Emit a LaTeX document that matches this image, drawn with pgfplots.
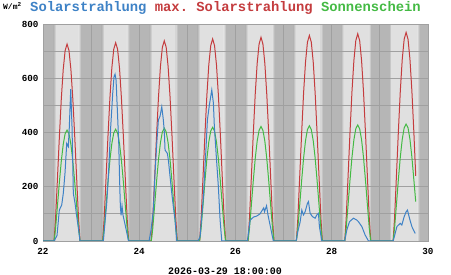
\documentclass[border=0pt]{standalone}
\usepackage{pgfplots}
\pgfplotsset{compat=1.18}
\usepackage{fontspec}
\setmainfont{Liberation Sans}
\setmonofont{Liberation Mono}
\definecolor{cred}{RGB}{196,60,62}
\definecolor{cblue}{RGB}{62,130,198}
\definecolor{cgreen}{RGB}{68,186,68}
\definecolor{night}{RGB}{182,182,182}
\definecolor{day}{RGB}{224,224,224}
\definecolor{gridc}{RGB}{160,160,160}
\pgfplotsset{
  dayband/.style={on layer=axis background, draw=none, fill=day, forget plot},
  dawn/.style={on layer=axis background, draw=none, left color=night, right color=day, forget plot},
  dusk/.style={on layer=axis background, draw=none, left color=day, right color=night, forget plot},
}
\begin{document}
\begin{tikzpicture}
\path (0,0) rectangle (451bp,275bp);
\begin{axis}[
  set layers,
  at={(43bp,34bp)}, anchor=south west,
  scale only axis, width=385bp, height=217bp,
  xmin=22, xmax=30, ymin=0, ymax=800,
  xtick={22,23,...,30},
  xticklabels={22,,24,,26,,28,,30},
  ytick={0,100,...,800},
  yticklabels={0,,200,,400,,600,,800},
  grid=major,
  major grid style={draw=gridc, line width=0.9bp},
  major tick length=0pt,
  axis line style={draw=gridc, line width=0.9bp},
  axis background/.style={fill=night},
  ticklabel style={font=\ttfamily\bfseries\fontsize{9.3}{10}\selectfont, text=black},
  xticklabel style={yshift=-4bp},
  yticklabel style={xshift=-1bp},
  clip=true,
]
\addplot[dawn] coordinates {(22.22,0)(22.22,800)(22.27,800)(22.27,0)} --cycle;
\addplot[dayband] coordinates {(22.27,0)(22.27,800)(22.74,800)(22.74,0)} --cycle;
\addplot[dusk] coordinates {(22.74,0)(22.74,800)(22.79,800)(22.79,0)} --cycle;
\addplot[dawn] coordinates {(23.22,0)(23.22,800)(23.27,800)(23.27,0)} --cycle;
\addplot[dayband] coordinates {(23.27,0)(23.27,800)(23.745,800)(23.745,0)} --cycle;
\addplot[dusk] coordinates {(23.745,0)(23.745,800)(23.795,800)(23.795,0)} --cycle;
\addplot[dawn] coordinates {(24.215,0)(24.215,800)(24.265,800)(24.265,0)} --cycle;
\addplot[dayband] coordinates {(24.265,0)(24.265,800)(24.75,800)(24.75,0)} --cycle;
\addplot[dusk] coordinates {(24.75,0)(24.75,800)(24.80,800)(24.80,0)} --cycle;
\addplot[dawn] coordinates {(25.21,0)(25.21,800)(25.26,800)(25.26,0)} --cycle;
\addplot[dayband] coordinates {(25.26,0)(25.26,800)(25.755,800)(25.755,0)} --cycle;
\addplot[dusk] coordinates {(25.755,0)(25.755,800)(25.805,800)(25.805,0)} --cycle;
\addplot[dawn] coordinates {(26.205,0)(26.205,800)(26.255,800)(26.255,0)} --cycle;
\addplot[dayband] coordinates {(26.255,0)(26.255,800)(26.76,800)(26.76,0)} --cycle;
\addplot[dusk] coordinates {(26.76,0)(26.76,800)(26.81,800)(26.81,0)} --cycle;
\addplot[dawn] coordinates {(27.20,0)(27.20,800)(27.25,800)(27.25,0)} --cycle;
\addplot[dayband] coordinates {(27.25,0)(27.25,800)(27.765,800)(27.765,0)} --cycle;
\addplot[dusk] coordinates {(27.765,0)(27.765,800)(27.815,800)(27.815,0)} --cycle;
\addplot[dawn] coordinates {(28.195,0)(28.195,800)(28.245,800)(28.245,0)} --cycle;
\addplot[dayband] coordinates {(28.245,0)(28.245,800)(28.77,800)(28.77,0)} --cycle;
\addplot[dusk] coordinates {(28.77,0)(28.77,800)(28.82,800)(28.82,0)} --cycle;
\addplot[dawn] coordinates {(29.19,0)(29.19,800)(29.24,800)(29.24,0)} --cycle;
\addplot[dayband] coordinates {(29.24,0)(29.24,800)(29.775,800)(29.775,0)} --cycle;
\addplot[dusk] coordinates {(29.775,0)(29.775,800)(29.825,800)(29.825,0)} --cycle;
% max. Solarstrahlung
\addplot[cred, line width=1bp] coordinates {
(22,0)
(22.23,0)(22.26,78)(22.30,229)(22.34,383)(22.38,523)(22.42,632)(22.46,702)(22.50,726)(22.54,702)(22.58,632)(22.62,523)(22.66,383)(22.70,229)(22.74,78)(22.77,0)
(23.24,0)(23.27,79)(23.31,231)(23.35,386)(23.39,526)(23.43,637)(23.47,707)(23.51,731)(23.55,707)(23.59,637)(23.63,526)(23.67,386)(23.71,231)(23.75,79)(23.78,0)
(24.25,0)(24.28,80)(24.32,233)(24.36,390)(24.40,531)(24.44,643)(24.48,714)(24.52,738)(24.56,714)(24.60,643)(24.64,531)(24.68,390)(24.72,233)(24.76,80)(24.79,0)
(25.255,0)(25.285,80)(25.325,235)(25.365,393)(25.405,536)(25.445,649)(25.485,720)(25.525,745)(25.565,720)(25.605,649)(25.645,536)(25.685,393)(25.725,235)(25.765,80)(25.795,0)
(26.26,0)(26.29,81)(26.33,237)(26.37,397)(26.41,541)(26.45,654)(26.49,726)(26.53,751)(26.57,726)(26.61,654)(26.65,541)(26.69,397)(26.73,237)(26.77,81)(26.80,0)
(27.265,0)(27.295,82)(27.335,240)(27.375,400)(27.415,546)(27.455,660)(27.495,733)(27.535,758)(27.575,733)(27.615,660)(27.655,546)(27.695,400)(27.735,240)(27.775,82)(27.805,0)
(28.27,0)(28.30,83)(28.34,241)(28.38,403)(28.42,550)(28.46,665)(28.50,739)(28.54,764)(28.58,739)(28.62,665)(28.66,550)(28.70,403)(28.74,241)(28.78,83)(28.81,0)
(29.275,0)(29.305,83)(29.345,243)(29.385,406)(29.425,554)(29.465,670)(29.505,744)(29.545,769)(29.585,744)(29.625,670)(29.665,554)(29.705,406)(29.745,240)
};
% Sonnenschein
\addplot[cgreen, line width=1bp] coordinates {
(22,0)
(22.23,0)(22.26,44)(22.30,129)(22.34,216)(22.38,294)(22.42,356)(22.46,396)(22.50,409)(22.54,396)(22.58,356)(22.62,294)(22.66,216)(22.70,129)(22.74,44)(22.77,0)
(23.24,0)(23.27,44)(23.31,130)(23.35,218)(23.39,297)(23.43,359)(23.47,398)(23.51,412)(23.55,398)(23.59,359)(23.63,297)(23.67,218)(23.71,130)(23.75,44)(23.78,0)
(24.25,0)(24.28,45)(24.32,131)(24.36,220)(24.40,300)(24.44,362)(24.48,402)(24.52,416)(24.56,402)(24.60,362)(24.64,300)(24.68,220)(24.72,131)(24.76,45)(24.79,0)
(25.255,0)(25.285,45)(25.325,132)(25.365,221)(25.405,302)(25.445,365)(25.485,405)(25.525,419)(25.565,405)(25.605,365)(25.645,302)(25.685,221)(25.725,132)(25.765,45)(25.795,0)
(26.26,0)(26.29,46)(26.33,133)(26.37,223)(26.41,304)(26.45,368)(26.49,408)(26.53,422)(26.57,408)(26.61,368)(26.65,304)(26.69,223)(26.73,133)(26.77,46)(26.80,0)
(27.265,0)(27.295,46)(27.335,134)(27.375,224)(27.415,306)(27.455,370)(27.495,411)(27.535,425)(27.575,411)(27.615,370)(27.655,306)(27.695,224)(27.735,134)(27.775,46)(27.805,0)
(28.27,0)(28.30,46)(28.34,135)(28.38,226)(28.42,308)(28.46,373)(28.50,414)(28.54,428)(28.58,414)(28.62,373)(28.66,308)(28.70,226)(28.74,135)(28.78,46)(28.81,0)
(29.275,0)(29.305,47)(29.345,136)(29.385,228)(29.425,310)(29.465,375)(29.505,417)(29.545,431)(29.585,417)(29.625,375)(29.665,310)(29.705,228)(29.745,145)
};
% Solarstrahlung
\addplot[cblue, line width=1bp] coordinates {
(22,0)
(22.229,0)(22.291,20)(22.339,114)(22.389,133)(22.422,176)(22.457,250)(22.493,360)(22.526,348)(22.547,421)(22.576,560)(22.603,421)(22.617,299)(22.630,176)(22.665,140)(22.701,90)(22.734,50)(22.769,0)
(23.254,0)(23.324,139)(23.358,237)(23.407,421)(23.449,545)(23.476,606)(23.497,615)(23.518,594)(23.545,483)(23.574,360)(23.590,237)(23.607,130)(23.622,95)(23.642,130)(23.663,95)(23.694,70)(23.736,35)(23.777,0)
(24.204,0)(24.245,40)(24.293,114)(24.328,250)(24.364,360)(24.397,446)(24.432,460)(24.468,495)(24.501,446)(24.522,400)(24.536,335)(24.557,330)(24.584,323)(24.605,299)(24.626,262)(24.676,176)(24.713,120)(24.744,77)(24.780,0)
(25.222,0)(25.264,16)(25.333,163)(25.389,348)(25.416,446)(25.457,501)(25.507,557)(25.541,508)(25.561,421)(25.597,323)(25.644,200)(25.680,77)(25.715,0)
(26.247,0)(26.304,77)(26.372,88)(26.441,92)(26.509,100)(26.544,110)(26.586,122)(26.603,108)(26.645,130)(26.676,95)(26.717,60)(26.786,0)
(27.260,0)(27.301,40)(27.343,70)(27.378,114)(27.412,96)(27.447,108)(27.495,139)(27.516,145)(27.551,102)(27.599,90)(27.655,84)(27.690,96)(27.723,102)(27.744,53)(27.794,0)
(28.268,0)(28.314,41)(28.368,71)(28.451,84)(28.522,77)(28.555,71)(28.626,53)(28.694,22)(28.763,0)
(29.277,0)(29.354,53)(29.422,65)(29.457,59)(29.505,90)(29.547,108)(29.574,114)(29.615,84)(29.665,53)(29.734,28)
};
\end{axis}
\node[anchor=north west, inner sep=0pt, font=\ttfamily\bfseries\fontsize{8}{8}\selectfont] at (3bp,273bp) {W/m\textsuperscript{2}};
\node[anchor=base west, inner sep=0pt, font=\ttfamily\bfseries\fontsize{13.9}{14}\selectfont] at (30bp,263bp)
 {\textcolor{cblue}{Solarstrahlung} \textcolor{cred}{max. Solarstrahlung} \textcolor{cgreen}{Sonnenschein}};
\node[anchor=base west, inner sep=0pt, font=\ttfamily\bfseries\fontsize{10}{10}\selectfont] at (168bp,1bp) {2026-03-29 18:00:00};
\end{tikzpicture}
\end{document}
